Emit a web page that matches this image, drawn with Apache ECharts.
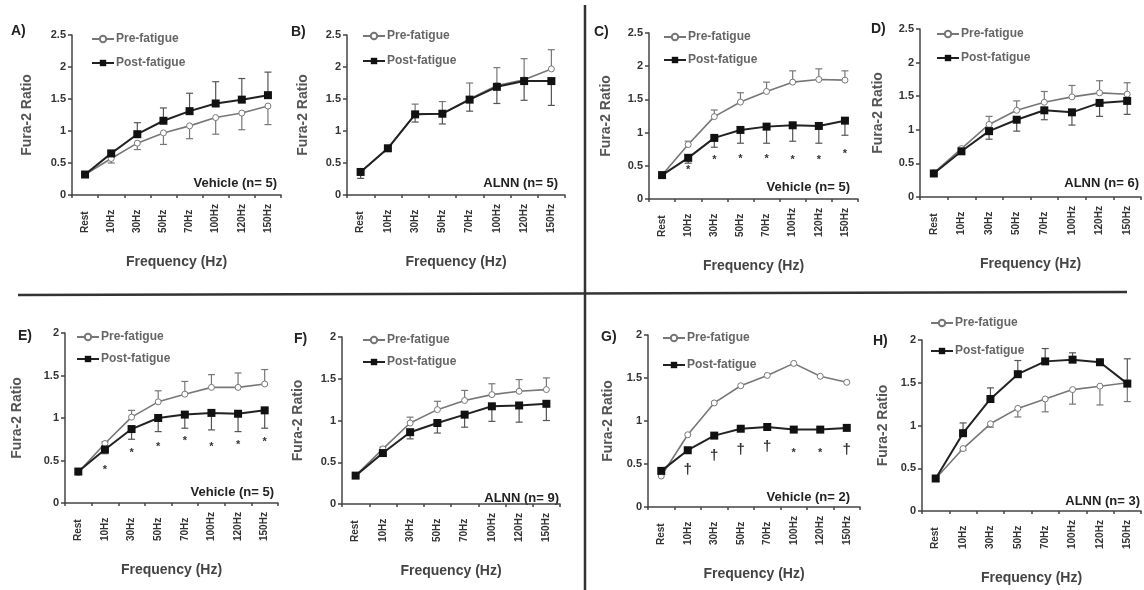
<!DOCTYPE html>
<html>
<head>
<meta charset="utf-8">
<script src="https://cdn.jsdelivr.net/npm/echarts@6/dist/echarts.min.js"></script>
<style>
  html, body { margin: 0; padding: 0; background: #fff; }
  #chart { width: 1144px; height: 590px; }
</style>
</head>
<body>
<div id="chart"></div>
<script>
var categories = ['Rest', '10Hz', '30Hz', '50Hz', '70Hz', '100Hz', '120Hz', '150Hz'];

// A) Vehicle, 2.5 scale
var aPre    = [0.32, 0.57, 0.81, 0.97, 1.08, 1.21, 1.28, 1.39];
var aPreSE  = [0.00, 0.07, 0.10, 0.18, 0.20, 0.26, 0.26, 0.29];
var aPost   = [0.32, 0.65, 0.95, 1.16, 1.31, 1.43, 1.49, 1.56];
var aPostSE = [0.02, 0.03, 0.18, 0.20, 0.28, 0.34, 0.33, 0.36];

// B) ALNN
var bPre    = [0.36, 0.73, 1.26, 1.27, 1.50, 1.71, 1.80, 1.97];
var bPreSE  = [0.00, 0.03, 0.16, 0.19, 0.25, 0.28, 0.33, 0.30];
var bPost   = [0.36, 0.73, 1.26, 1.27, 1.49, 1.69, 1.78, 1.78];
var bPostSE = [0.10, 0.05, 0.12, 0.16, 0.18, 0.26, 0.30, 0.38];

// C) Vehicle
var cPre    = [0.36, 0.82, 1.24, 1.46, 1.62, 1.76, 1.80, 1.79];
var cPreSE  = [0.00, 0.05, 0.10, 0.14, 0.14, 0.17, 0.16, 0.14];
var cPost   = [0.36, 0.62, 0.92, 1.04, 1.09, 1.11, 1.10, 1.18];
var cPostSE = [0.00, 0.08, 0.14, 0.20, 0.25, 0.24, 0.26, 0.22];
var cMarkY  = [null, 0.48, 0.63, 0.65, 0.65, 0.63, 0.63, 0.72];
var cMarks  = ['', '*', '*', '*', '*', '*', '*', '*'];

// D) ALNN
var dPre    = [0.36, 0.72, 1.08, 1.29, 1.41, 1.49, 1.55, 1.53];
var dPreSE  = [0.00, 0.02, 0.12, 0.14, 0.16, 0.17, 0.18, 0.17];
var dPost   = [0.35, 0.68, 0.98, 1.15, 1.29, 1.26, 1.40, 1.43];
var dPostSE = [0.00, 0.03, 0.12, 0.17, 0.14, 0.19, 0.20, 0.20];

// E) Vehicle, 2.0 scale
var ePre    = [0.36, 0.70, 1.01, 1.19, 1.28, 1.36, 1.36, 1.40];
var ePreSE  = [0.00, 0.02, 0.08, 0.13, 0.15, 0.15, 0.17, 0.17];
var ePost   = [0.37, 0.63, 0.87, 1.00, 1.04, 1.06, 1.05, 1.09];
var ePostSE = [0.00, 0.05, 0.12, 0.16, 0.16, 0.20, 0.21, 0.21];
var eMarkY  = [null, 0.42, 0.62, 0.70, 0.76, 0.69, 0.72, 0.75];
var eMarks  = ['', '*', '*', '*', '*', '*', '*', '*'];

// F) ALNN
var fPre    = [0.34, 0.66, 0.97, 1.13, 1.24, 1.31, 1.35, 1.37];
var fPreSE  = [0.00, 0.02, 0.07, 0.10, 0.12, 0.13, 0.14, 0.14];
var fPost   = [0.34, 0.61, 0.86, 0.97, 1.07, 1.17, 1.18, 1.20];
var fPostSE = [0.00, 0.03, 0.08, 0.12, 0.15, 0.18, 0.20, 0.20];

// G) Vehicle n=2, no error bars
var gPre    = [0.36, 0.84, 1.21, 1.41, 1.53, 1.67, 1.52, 1.45];
var gPost   = [0.42, 0.66, 0.83, 0.91, 0.93, 0.90, 0.90, 0.92];
var gMarkY  = [null, 0.43, 0.60, 0.67, 0.70, 0.66, 0.66, 0.67];
var gMarks  = ['', '\u2020', '\u2020', '\u2020', '\u2020', '*', '*', '\u2020'];

// H) ALNN
var hPre    = [0.38, 0.73, 1.02, 1.20, 1.31, 1.42, 1.46, 1.50];
var hPreSE  = [0.00, 0.02, 0.04, 0.10, 0.15, 0.17, 0.22, 0.22];
var hPost   = [0.38, 0.91, 1.31, 1.60, 1.75, 1.77, 1.74, 1.49];
var hPostSE = [0.00, 0.12, 0.13, 0.16, 0.15, 0.08, 0.00, 0.29];

var panels = [
  {label: 'A)', note: 'Vehicle (n= 5)', pre: aPre, preSE: aPreSE, preDir: -1, post: aPost, postSE: aPostSE, postDir: 1},
  {label: 'B)', note: 'ALNN (n= 5)', pre: bPre, preSE: bPreSE, preDir: 1, post: bPost, postSE: bPostSE, postDir: -1},
  {label: 'C)', note: 'Vehicle (n= 5)', pre: cPre, preSE: cPreSE, preDir: 1, post: cPost, postSE: cPostSE, postDir: -1, markY: cMarkY, marks: cMarks},
  {label: 'D)', note: 'ALNN (n= 6)', pre: dPre, preSE: dPreSE, preDir: 1, post: dPost, postSE: dPostSE, postDir: -1},
  {label: 'E)', note: 'Vehicle (n= 5)', pre: ePre, preSE: ePreSE, preDir: 1, post: ePost, postSE: ePostSE, postDir: -1, markY: eMarkY, marks: eMarks},
  {label: 'F)', note: 'ALNN (n= 9)', pre: fPre, preSE: fPreSE, preDir: 1, post: fPost, postSE: fPostSE, postDir: -1},
  {label: 'G)', note: 'Vehicle (n= 2)', pre: gPre, post: gPost, markY: gMarkY, marks: gMarks},
  {label: 'H)', note: 'ALNN (n= 3)', pre: hPre, preSE: hPreSE, preDir: -1, post: hPost, postSE: hPostSE, postDir: 1}
];

// layout of each panel: plot box, y max, legend, label and note spots
var boxes = [
  {left: 72,  top: 35,  width: 209, height: 160, max: 2.5, lgX: 91,  lgY: 33,  lgGap: 12, lbX: 20,  lbY: 32,  ntX: 277,  ntY: 183, yGap: 38},
  {left: 347, top: 35,  width: 218, height: 160, max: 2.5, lgX: 362, lgY: 30,  lgGap: 13, lbX: 300, lbY: 33,  ntX: 558,  ntY: 183, yGap: 37},
  {left: 649, top: 33,  width: 209, height: 166, max: 2.5, lgX: 663, lgY: 31,  lgGap: 11, lbX: 603, lbY: 33,  ntX: 850,  ntY: 187, yGap: 36},
  {left: 920, top: 29,  width: 221, height: 168, max: 2.5, lgX: 936, lgY: 28,  lgGap: 12, lbX: 880, lbY: 30,  ntX: 1139, ntY: 183, yGap: 35},
  {left: 65,  top: 333, width: 213, height: 170, max: 2,   lgX: 76,  lgY: 331, lgGap: 10, lbX: 27,  lbY: 337, ntX: 274,  ntY: 492, yGap: 41},
  {left: 342, top: 337, width: 218, height: 167, max: 2,   lgX: 362, lgY: 334, lgGap: 10, lbX: 303, lbY: 340, ntX: 559,  ntY: 498, yGap: 37},
  {left: 648, top: 335, width: 212, height: 172, max: 2,   lgX: 662, lgY: 332, lgGap: 15, lbX: 610, lbY: 338, ntX: 850,  ntY: 497, yGap: 33},
  {left: 922, top: 340, width: 219, height: 171, max: 2,   lgX: 930, lgY: 317, lgGap: 16, lbX: 882, lbY: 342, ntX: 1140, ntY: 501, yGap: 32}
];

var textColor = '#333';
var grids = [], xAxes = [], yAxes = [], series = [], legends = [], graphics = [];

function errorSeries(i, means, se, dir, color) {
  var data = means.map(function (m, k) { return [k, m, se[k] * dir]; });
  return {
    type: 'custom',
    xAxisIndex: i, yAxisIndex: i,
    z: 2, silent: true,
    encode: {x: 0, y: 1},
    data: data,
    renderItem: function (params, api) {
      var k = api.value(0), m = api.value(1), e = api.value(2);
      if (!e) return null;
      var p0 = api.coord([k, m]);
      var p1 = api.coord([k, m + e]);
      var st = {stroke: color, lineWidth: 1.2};
      return {
        type: 'group',
        children: [
          {type: 'line', shape: {x1: p0[0], y1: p0[1], x2: p1[0], y2: p1[1]}, style: st},
          {type: 'line', shape: {x1: p1[0] - 3.5, y1: p1[1], x2: p1[0] + 3.5, y2: p1[1]}, style: st}
        ]
      };
    }
  };
}

panels.forEach(function (p, i) {
  var b = boxes[i];
  grids.push({left: b.left, top: b.top, width: b.width, height: b.height, outerBoundsMode: 'none'});
  xAxes.push({
    type: 'category', gridIndex: i, data: categories, boundaryGap: true,
    name: 'Frequency (Hz)', nameLocation: 'middle', nameGap: 60,
    nameTextStyle: {fontSize: 14, fontWeight: 'bold', color: '#444', fontFamily: 'Liberation Sans'},
    axisLine: {lineStyle: {color: '#444', width: 1.5}},
    axisTick: {show: true, length: 3, lineStyle: {color: '#444', width: 1.5}},
    axisLabel: {rotate: 90, interval: 0, margin: 38, align: 'left', verticalAlign: 'middle',
      fontSize: 10, fontWeight: 'bold', color: textColor, fontFamily: 'Liberation Sans'},
    splitLine: {show: false}
  });
  yAxes.push({
    type: 'value', gridIndex: i, min: 0, max: b.max, interval: 0.5,
    name: 'Fura-2 Ratio', nameLocation: 'middle', nameGap: b.yGap,
    nameTextStyle: {fontSize: 14, fontWeight: 'bold', color: '#555', fontFamily: 'Liberation Sans'},
    axisLine: {show: true, lineStyle: {color: '#444', width: 1.5}},
    axisTick: {show: true, length: 4, lineStyle: {color: '#444', width: 1.5}},
    axisLabel: {fontSize: 11, fontWeight: 'bold', color: textColor, margin: 6, fontFamily: 'Liberation Sans'},
    splitLine: {show: false}
  });

  if (p.preSE) series.push(errorSeries(i, p.pre, p.preSE, p.preDir, '#777'));
  if (p.postSE) series.push(errorSeries(i, p.post, p.postSE, p.postDir, '#555'));

  series.push({
    name: 'Pre-fatigue', type: 'line', xAxisIndex: i, yAxisIndex: i, z: 3,
    data: p.pre, symbol: 'circle', symbolSize: 6,
    itemStyle: {color: '#fff', borderColor: '#777', borderWidth: 1},
    lineStyle: {color: '#777', width: 1.6}
  });
  series.push({
    name: 'Post-fatigue', type: 'line', xAxisIndex: i, yAxisIndex: i, z: 4,
    data: p.post, symbol: 'rect', symbolSize: 8,
    itemStyle: {color: '#111'},
    lineStyle: {color: '#222', width: 2}
  });

  if (p.marks) {
    var marks = p.marks;
    series.push({
      type: 'custom', xAxisIndex: i, yAxisIndex: i, z: 5, silent: true,
      encode: {x: 0, y: 1},
      data: p.markY.map(function (v, k) { return [k, v == null ? 0 : v]; }),
      renderItem: function (params, api) {
        var ch = marks[params.dataIndex];
        if (!ch) return null;
        var pt = api.coord([api.value(0), api.value(1)]);
        var star = ch === '*';
        return {
          type: 'text',
          style: {
            text: ch, x: pt[0], y: pt[1] + (star ? 3 : 0),
            textAlign: 'center', textVerticalAlign: 'middle',
            font: 'bold ' + (star ? 11 : 15) + 'px "Liberation Sans"', fill: '#333'
          }
        };
      }
    });
  }

  legends.push({
    orient: 'vertical', left: b.lgX, top: b.lgY, itemWidth: 22, itemHeight: 8, itemGap: b.lgGap,
    selectedMode: false, padding: 0,
    data: ['Pre-fatigue', 'Post-fatigue'],
    textStyle: {fontSize: 12, fontWeight: 'bold', color: '#666', fontFamily: 'Liberation Sans', padding: [0, 0, 0, -3]}
  });

  graphics.push({
    type: 'text', left: b.lbX - 9, top: b.lbY - 8,
    style: {text: p.label, font: 'bold 14px "Liberation Sans"', fill: '#222'}
  });
  graphics.push({
    type: 'text', x: b.ntX, y: b.ntY,
    style: {text: p.note, font: 'bold 13px "Liberation Sans"', fill: '#222', textAlign: 'right', textVerticalAlign: 'middle'}
  });
});

// quadrant dividers
graphics.push({type: 'line', shape: {x1: 18, y1: 295, x2: 1127, y2: 292}, style: {stroke: '#333', lineWidth: 2.5}});
graphics.push({type: 'line', shape: {x1: 585, y1: 5, x2: 585, y2: 590}, style: {stroke: '#333', lineWidth: 2.5}});

var myChart = echarts.init(document.getElementById('chart'));
myChart.setOption({
  animation: false,
  textStyle: {fontFamily: 'Liberation Sans'},
  grid: grids,
  xAxis: xAxes,
  yAxis: yAxes,
  legend: legends,
  series: series,
  graphic: graphics
});
</script>
</body>
</html>
